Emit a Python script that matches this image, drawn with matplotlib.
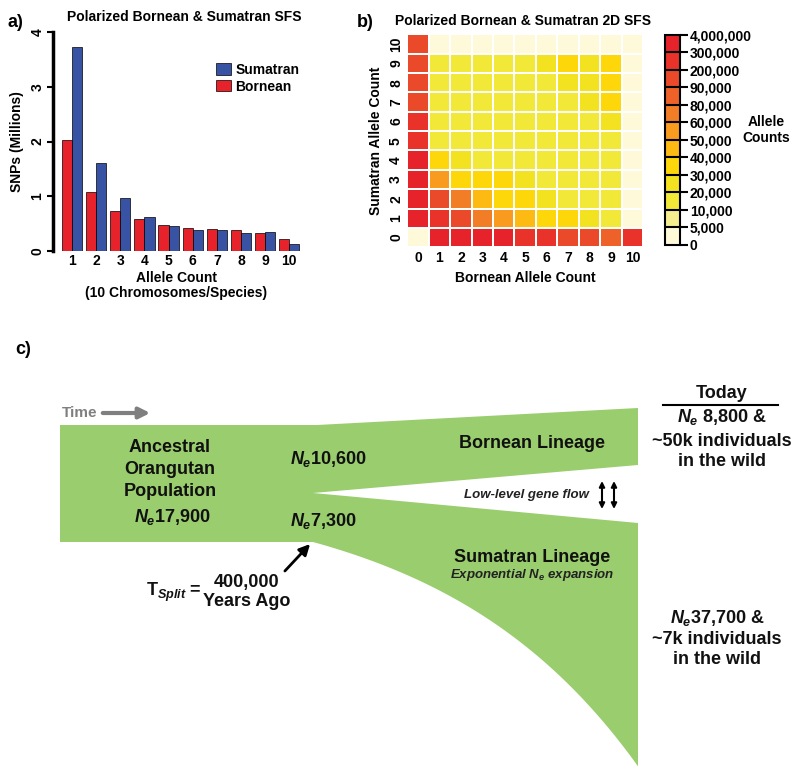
import matplotlib
matplotlib.use('Agg')
import matplotlib.pyplot as plt
import numpy as np
from matplotlib.colors import ListedColormap, BoundaryNorm
from matplotlib.patches import Polygon, Patch

plt.rcParams['font.family'] = ['Liberation Sans', 'DejaVu Sans']
plt.rcParams['font.weight'] = 'bold'
plt.rcParams['axes.labelweight'] = 'bold'
plt.rcParams['axes.titleweight'] = 'bold'
plt.rcParams['mathtext.fontset'] = 'custom'
plt.rcParams['mathtext.rm'] = 'Liberation Sans:bold'
plt.rcParams['mathtext.it'] = 'Liberation Sans:italic:bold'
plt.rcParams['mathtext.bf'] = 'Liberation Sans:bold'

# ---- a) 1D SFS (millions of SNPs)
allele_count = np.arange(1, 11)
bornean = [2.02, 1.08, 0.74, 0.58, 0.47, 0.43, 0.40, 0.38, 0.33, 0.23]
sumatran = [3.73, 1.61, 0.97, 0.63, 0.46, 0.39, 0.38, 0.33, 0.35, 0.13]

# ---- b) 2D SFS, rows = Sumatran count 0..10, cols = Bornean count 0..10
sfs_row0 = [0, 420000, 380000, 350000, 320000, 260000, 230000, 150000, 110000, 85000, 250000]
sfs_row1 = [380000, 250000, 120000, 70000, 55000, 45000, 35000, 32000, 22000, 16000, 3000]
sfs_row2 = [350000, 110000, 65000, 45000, 35000, 31000, 24000, 18000, 16000, 15000, 3000]
sfs_row3 = [330000, 55000, 34000, 33000, 31000, 22000, 18000, 16000, 15000, 15000, 3000]
sfs_row4 = [310000, 33000, 22000, 18000, 16000, 15000, 15000, 15000, 15000, 16000, 3000]
sfs_row5 = [270000, 18000, 18000, 16000, 15000, 15000, 15000, 15000, 16000, 18000, 3000]
sfs_row6 = [250000, 16000, 16000, 15000, 15000, 15000, 15000, 16000, 18000, 22000, 3000]
sfs_row7 = [180000, 16000, 15000, 15000, 15000, 15000, 16000, 18000, 22000, 32000, 3000]
sfs_row8 = [170000, 15000, 15000, 15000, 15000, 16000, 18000, 22000, 24000, 31000, 3000]
sfs_row9 = [160000, 15000, 15000, 15000, 16000, 18000, 22000, 33000, 28000, 34000, 3000]
sfs_row10 = [150000, 2000, 2000, 2000, 2000, 2000, 2000, 2000, 2000, 2000, 2000]
sfs2d = np.array([sfs_row0, sfs_row1, sfs_row2, sfs_row3, sfs_row4, sfs_row5,
                  sfs_row6, sfs_row7, sfs_row8, sfs_row9, sfs_row10])

bounds = [0, 5000, 10000, 20000, 30000, 40000, 50000, 60000, 80000, 90000,
          200000, 300000, 4000000]
bin_colors = ['#FEFAD9', '#F6EE8E', '#F2E838', '#F3E21F', '#FDD70A', '#FCBA13',
              '#F89B1E', '#F17E26', '#EE6229', '#EB4A2A', '#E9332A', '#E6232A']

fig = plt.figure(figsize=(8, 7.75), dpi=100)

# ---------- panel a
ax1 = fig.add_axes([0.066, 0.676, 0.309, 0.2826])
w = 0.42
ax1.bar(allele_count - w, bornean, width=w, align='edge', color='#E8222A',
        edgecolor='black', linewidth=0.5, label='Bornean')
ax1.bar(allele_count, sumatran, width=w, align='edge', color='#3953A4',
        edgecolor='black', linewidth=0.5, label='Sumatran')
ax1.set_xlim(0.2, 10.45)
ax1.set_ylim(0, 4)
ax1.set_yticks([0, 1, 2, 3, 4])
ax1.set_xticks(allele_count)
for s in ['top', 'right', 'bottom']:
    ax1.spines[s].set_visible(False)
ax1.spines['left'].set_linewidth(2.5)
ax1.tick_params(axis='y', length=4, width=1.5, labelsize=10, rotation=90, pad=2)
for lab in ax1.get_yticklabels():
    lab.set_va('center')
ax1.tick_params(axis='x', length=0, labelsize=10, pad=2)
ax1.set_ylabel('SNPs (Millions)', fontsize=10, labelpad=5)
ax1.set_xlabel('Allele Count\n(10 Chromosomes/Species)', fontsize=10, labelpad=2,
               linespacing=1.1)
ax1.set_title('Polarized Bornean & Sumatran SFS', fontsize=10, pad=8, x=0.53)
handles = [Patch(facecolor='#3953A4', edgecolor='black', linewidth=0.5),
           Patch(facecolor='#E8222A', edgecolor='black', linewidth=0.5)]
ax1.legend(handles, ['Sumatran', 'Bornean'], loc='upper left',
           bbox_to_anchor=(0.66, 0.86), frameon=False, fontsize=10,
           borderpad=0, borderaxespad=0, handlelength=1.1, handleheight=0.9,
           handletextpad=0.3, labelspacing=0.2)
fig.text(0.009, 0.982, 'a)', fontsize=13, va='top')

# ---------- panel b
cmap = ListedColormap(bin_colors)
norm = BoundaryNorm(bounds, cmap.N)
ax2 = fig.add_axes([0.509, 0.681, 0.295, 0.2748])
edges = np.arange(12) - 0.5
mesh = ax2.pcolormesh(edges, edges, sfs2d, cmap=cmap, norm=norm,
                      edgecolors='white', linewidth=1.2)
ax2.set_xlim(-0.5, 10.5)
ax2.set_ylim(-0.5, 10.5)
ax2.set_xticks(range(11))
ax2.set_yticks(range(11))
for s in ax2.spines.values():
    s.set_visible(False)
ax2.tick_params(length=0, labelsize=10, pad=3)
ax2.tick_params(axis='y', rotation=90)
for lab in ax2.get_yticklabels():
    lab.set_va('center')
ax2.set_xlabel('Bornean Allele Count', fontsize=10, labelpad=4)
ax2.set_ylabel('Sumatran Allele Count', fontsize=10, labelpad=4)
ax2.set_title('Polarized Bornean & Sumatran 2D SFS', fontsize=10, pad=7, x=0.49)
fig.text(0.446, 0.982, 'b)', fontsize=13, va='top')

cax = fig.add_axes([0.831, 0.684, 0.019, 0.271])
cb = fig.colorbar(mesh, cax=cax, ticks=bounds, spacing='uniform', drawedges=True)
cb.outline.set_linewidth(1.5)
cb.dividers.set_linewidth(1.5)
cb.ax.tick_params(length=6, width=1.5, labelsize=10, pad=1)
cb.ax.set_yticklabels([f'{b:,}' for b in bounds])
fig.text(0.958, 0.832, 'Allele\nCounts', fontsize=10, ha='center', va='center',
         linespacing=1.2)

# ---------- panel c (schematic drawn in pixel coordinates)
ax3 = fig.add_axes([0, 0, 1, 1])
ax3.set_xlim(0, 800)
ax3.set_ylim(775, 0)
ax3.axis('off')
ax3.patch.set_alpha(0)

green = '#9ACD6E'
curve_x = np.linspace(313, 638, 80)
curve_y = 542 + 55 * (np.exp(0.005 * (curve_x - 313)) - 1)
outline = [(60, 425), (317, 425), (638, 408), (638, 465), (313, 493),
           (638, 523)] + list(zip(curve_x[::-1], curve_y[::-1])) + [(313, 542), (60, 542)]
ax3.add_patch(Polygon(outline, closed=True, facecolor=green, edgecolor='none'))

txt = '#111111'
ax3.text(15, 349, 'c)', fontsize=13, va='center', color='black')
ax3.text(62, 413, 'Time', fontsize=11, color='#7F7F7F', va='center')
ax3.annotate('', xy=(153, 413), xytext=(100, 413),
             arrowprops=dict(arrowstyle='-|>', lw=3, color='#7F7F7F',
                             mutation_scale=16))
for y, s in zip([447, 469, 492], ['Ancestral', 'Orangutan', 'Population']):
    ax3.text(170, y, s, fontsize=13, ha='center', va='center', color=txt)
ax3.text(172, 517, r'$N_e$17,900', fontsize=13, ha='center', va='center', color=txt)
ax3.text(290, 459, r'$N_e$10,600', fontsize=13, ha='left', va='center', color=txt)
ax3.text(290, 521, r'$N_e$7,300', fontsize=13, ha='left', va='center', color=txt)
ax3.annotate('', xy=(312, 542), xytext=(283, 573),
             arrowprops=dict(arrowstyle='-|>', lw=2, color='black',
                             mutation_scale=16))
ax3.text(146, 592, r'T$_{Split}$ =', fontsize=13, ha='left', va='center', color=txt)
ax3.text(247, 583, '400,000', fontsize=13, ha='center', va='center', color=txt)
ax3.text(247, 602, 'Years Ago', fontsize=13, ha='center', va='center', color=txt)

ax3.text(532, 443, 'Bornean Lineage', fontsize=13, ha='center', va='center', color=txt)
ax3.text(526, 495, 'Low-level gene flow', fontsize=9.5, style='italic',
         ha='center', va='center', color='#222222')
for xa in [602, 614]:
    ax3.annotate('', xy=(xa, 481), xytext=(xa, 509),
                 arrowprops=dict(arrowstyle='<|-|>', lw=1.5, color='black',
                                 mutation_scale=8, shrinkA=0, shrinkB=0))
ax3.text(532, 557, 'Sumatran Lineage', fontsize=13, ha='center', va='center', color=txt)
ax3.text(532, 575, r'Exponential $N_e$ expansion', fontsize=9.5, style='italic',
         ha='center', va='center', color='#222222')

ax3.text(722, 393, 'Today', fontsize=13, ha='center', va='center', color=txt)
ax3.plot([663, 778], [405, 405], color='black', lw=1.5)
ax3.text(722, 417, r'$N_e$ 8,800 &', fontsize=13, ha='center', va='center', color=txt)
ax3.text(722, 441, '~50k individuals', fontsize=13, ha='center', va='center', color=txt)
ax3.text(722, 461, 'in the wild', fontsize=13, ha='center', va='center', color=txt)
ax3.text(717, 618, r'$N_e$37,700 &', fontsize=13, ha='center', va='center', color=txt)
ax3.text(717, 639, '~7k individuals', fontsize=13, ha='center', va='center', color=txt)
ax3.text(717, 659, 'in the wild', fontsize=13, ha='center', va='center', color=txt)

plt.savefig('out.png', dpi=100)
